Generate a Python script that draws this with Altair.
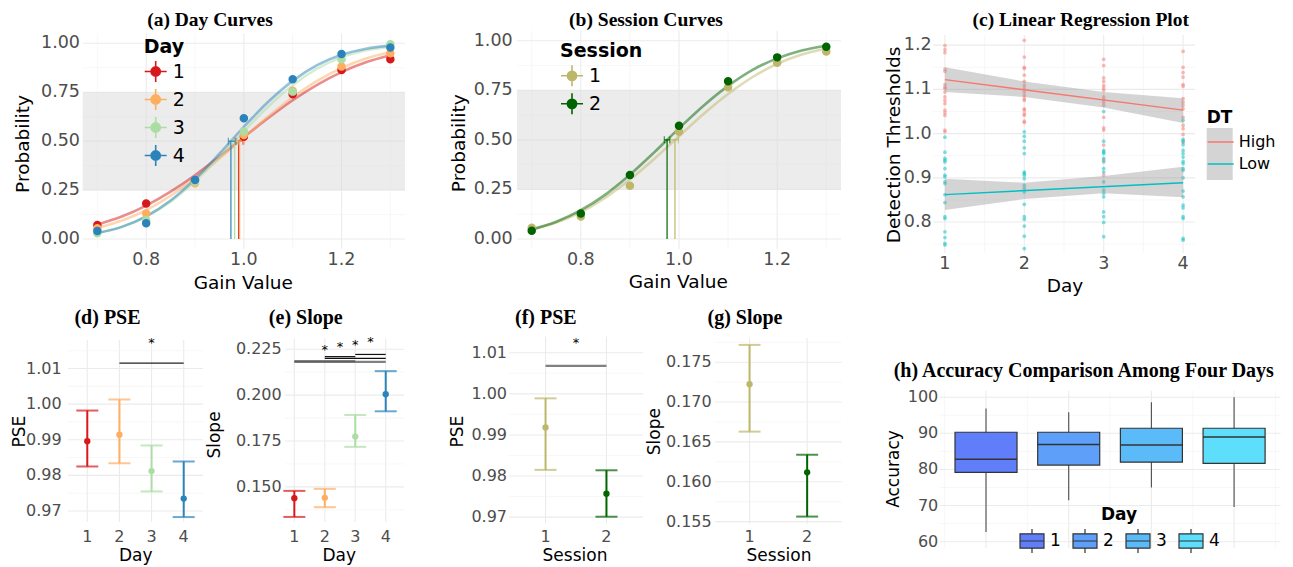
import altair as alt
import pandas as pd

FONT = "DejaVu Sans"
SERIF = "Liberation Serif"
GRID = "#EBEBEB"
MINOR = "#F3F3F3"
LABEL = "#4D4D4D"

# ---------------- data ----------------
gain_levels = [0.7, 0.8, 0.9, 1.0, 1.1, 1.2, 1.3]
curve_gain = [0.70, 0.75, 0.80, 0.85, 0.90, 0.95, 1.00, 1.05, 1.10, 1.15, 1.20, 1.25, 1.30]

days = ["1", "2", "3", "4"]
day_colors = ["#d7191c", "#fdae61", "#abdda4", "#2b83ba"]
day_prob = {
    "1": [0.072, 0.182, 0.300, 0.523, 0.739, 0.864, 0.918],
    "2": [0.055, 0.131, 0.285, 0.532, 0.758, 0.881, 0.949],
    "3": [0.029, 0.097, 0.293, 0.549, 0.753, 0.918, 0.995],
    "4": [0.041, 0.080, 0.302, 0.617, 0.816, 0.945, 0.978],
}
day_curve = {
    "1": [0.074, 0.115, 0.171, 0.242, 0.326, 0.421, 0.520, 0.618, 0.709, 0.788, 0.853, 0.903, 0.939],
    "2": [0.056, 0.094, 0.148, 0.221, 0.310, 0.411, 0.520, 0.626, 0.724, 0.808, 0.873, 0.922, 0.954],
    "3": [0.031, 0.062, 0.114, 0.191, 0.295, 0.418, 0.550, 0.677, 0.786, 0.870, 0.928, 0.964, 0.983],
    "4": [0.030, 0.062, 0.116, 0.197, 0.306, 0.436, 0.573, 0.701, 0.808, 0.888, 0.941, 0.972, 0.988],
}
day_pse = [0.9896, 0.9914, 0.9812, 0.9735]
day_pse_lo = [0.9825, 0.9834, 0.9755, 0.9683]
day_pse_hi = [0.9982, 1.0013, 0.9884, 0.9839]
day_slope = [0.1438, 0.1440, 0.1774, 0.2005]
day_slope_lo = [0.1336, 0.1389, 0.1718, 0.1912]
day_slope_hi = [0.1478, 0.1489, 0.1892, 0.2131]

sessions = ["1", "2"]
session_colors = ["#BDB76B", "#006400"]
session_prob = {
    "1": [0.057, 0.113, 0.269, 0.541, 0.765, 0.889, 0.945],
    "2": [0.042, 0.129, 0.323, 0.571, 0.795, 0.916, 0.970],
}
session_curve = {
    "1": [0.048, 0.083, 0.136, 0.209, 0.300, 0.405, 0.518, 0.630, 0.731, 0.817, 0.883, 0.930, 0.961],
    "2": [0.048, 0.087, 0.145, 0.224, 0.324, 0.438, 0.558, 0.672, 0.772, 0.853, 0.911, 0.951, 0.975],
}
session_pse = [0.9918, 0.9757]
session_pse_lo = [0.9815, 0.9701]
session_pse_hi = [0.9989, 0.9814]
session_slope = [0.17224, 0.16118]
session_slope_lo = [0.16629, 0.15563]
session_slope_hi = [0.17717, 0.16339]

# (c) detection thresholds per day
dt_high = {
    1: [1.199, 1.190, 1.183, 1.146, 1.141, 1.111, 1.105, 1.102, 1.094, 1.083, 1.075, 1.068, 1.053, 1.047, 1.041, 1.008, 1.004],
    2: [1.211, 1.173, 1.150, 1.147, 1.132, 1.118, 1.109, 1.102, 1.094, 1.086, 1.079, 1.075, 1.056, 1.053, 1.045, 1.041, 1.028, 1.025],
    3: [1.168, 1.154, 1.126, 1.118, 1.109, 1.103, 1.098, 1.083, 1.077, 1.071, 1.064, 1.037, 1.013, 1.008, 0.974, 0.940, 0.906],
    4: [1.186, 1.150, 1.138, 1.128, 1.111, 1.107, 1.079, 1.071, 1.064, 1.056, 1.037, 1.019, 1.011, 0.998, 0.981],
}
dt_low = {
    1: [0.992, 0.958, 0.944, 0.940, 0.936, 0.921, 0.906, 0.902, 0.891, 0.887, 0.862, 0.844, 0.812, 0.808, 0.778, 0.765, 0.752, 0.748],
    2: [1.004, 0.994, 0.983, 0.968, 0.955, 0.913, 0.910, 0.906, 0.898, 0.883, 0.876, 0.868, 0.840, 0.812, 0.806, 0.791, 0.768, 0.740],
    3: [1.050, 0.983, 0.962, 0.958, 0.955, 0.944, 0.936, 0.921, 0.913, 0.891, 0.872, 0.865, 0.857, 0.823, 0.812, 0.799, 0.767],
    4: [1.030, 0.987, 0.983, 0.975, 0.962, 0.955, 0.947, 0.937, 0.932, 0.921, 0.917, 0.900, 0.870, 0.857, 0.838, 0.832, 0.812, 0.808, 0.763, 0.759],
}
dt_groups = ["High", "Low"]
dt_colors = ["#F8766D", "#00BFC4"]
fit_days = [1, 4]
fit_high = [1.122, 1.053]
fit_low = [0.862, 0.889]
band_days = [1, 2, 3, 4]
band_high_lo = [1.094, 1.083, 1.059, 1.024]
band_high_hi = [1.150, 1.118, 1.094, 1.080]
band_low_lo = [0.827, 0.852, 0.865, 0.856]
band_low_hi = [0.898, 0.889, 0.904, 0.925]

# (h) accuracy box statistics
acc_min = [62.7, 71.5, 75.0, 69.6]
acc_q1 = [79.2, 81.2, 82.0, 81.7]
acc_med = [82.8, 86.9, 86.8, 89.0]
acc_q3 = [90.3, 90.3, 91.4, 91.4]
acc_max = [96.9, 95.8, 98.6, 100.0]
acc_colors = ["#607EFA", "#5E9FF9", "#5BBAF8", "#5DDFFB"]

# significance brackets
d_sig = {"x1": [2], "x2": [4], "y": [1.0115], "c": ["#222222"]}
d_star = {"x": [3], "y": [1.0171]}
e_sig = {"x1": [1, 1, 2, 2, 3], "x2": [4, 3, 4, 3, 4],
         "y": [0.2182, 0.2185, 0.2201, 0.2210, 0.2222],
         "c": ["#808080", "#606060", "#111111", "#111111", "#111111"]}
e_star = {"x": [2, 2.5, 3, 3.5], "y": [0.2247, 0.2262, 0.2276, 0.2288]}
f_sig = {"x1": [1], "x2": [2], "y": [1.0068], "c": ["#808080"]}
f_star = {"x": [1.5], "y": [1.0124]}

PR_PATH = "M-1,0H1M0,-0.95V0.95M0.42,0A0.42,0.42,0,1,1,-0.42,0A0.42,0.42,0,1,1,0.42,0Z"
BOX_PATH = "M-1,-0.6H1V0.6H-1Z M-1,0H1 M0,-0.6V-1 M0,0.6V1"

one = pd.DataFrame({"k": [0]})

# ---------------- panel frames (plot areas in view pixels) ----------------
PA = dict(l=74.7, t=25.5, r=397, b=240.8, xd=[0.67, 1.33], yd=[-0.05, 1.05])
PB = dict(l=509, t=22.8, r=833, b=240.9, xd=[0.67, 1.33], yd=[-0.05, 1.05])
PC = dict(l=925, t=27, r=1187, b=245, xd=[0.85, 4.15], yd=[0.73, 1.223])
PD = dict(l=60, t=332, r=195, b=513.7, xd=[0.4, 4.6], yd=[0.967, 1.018])
PE = dict(l=277.2, t=330.3, r=396, b=513.7, xd=[0.7, 4.6], yd=[0.131, 0.231])
PF = dict(l=501, t=328.7, r=635, b=515.3, xd=[0.4, 2.6], yd=[0.9685, 1.0139])
PG = dict(l=707, t=330.3, r=833.7, b=516, xd=[0.4, 2.6], yd=[0.1547, 0.178])
PH = dict(l=931.5, t=382.7, r=1272.6, b=540, xd=[0.4375, 4.5625], yd=[58.25, 101.8])


def SX(P):
    return alt.Scale(domain=P["xd"], range=[P["l"], P["r"]], nice=False, zero=False)


def SY(P):
    return alt.Scale(domain=P["yd"], range=[P["b"], P["t"]], nice=False, zero=False)


def X(P, f):
    return alt.X(f, scale=SX(P), axis=None)


def Y(P, f):
    return alt.Y(f, scale=SY(P), axis=None)


def grid(P, xmaj, xmin, ymaj, ymin):
    out = []
    for vals, col, w in [(xmin, MINOR, 0.7), (xmaj, GRID, 1.1)]:
        if vals:
            out.append(alt.Chart(pd.DataFrame({"v": vals})).mark_rule(color=col, strokeWidth=w).encode(
                x=X(P, "v:Q"), y=alt.value(P["t"]), y2=alt.value(P["b"])))
    for vals, col, w in [(ymin, MINOR, 0.7), (ymaj, GRID, 1.1)]:
        if vals:
            out.append(alt.Chart(pd.DataFrame({"v": vals})).mark_rule(color=col, strokeWidth=w).encode(
                y=Y(P, "v:Q"), x=alt.value(P["l"]), x2=alt.value(P["r"])))
    return out


def xlabels(P, vals, fmt, ypx, size):
    return alt.Chart(pd.DataFrame({"v": vals})).mark_text(
        font=FONT, fontSize=size, color=LABEL, align="center", baseline="middle").encode(
        x=X(P, "v:Q"), y=alt.value(ypx), text=alt.Text("v:Q", format=fmt))


def ylabels(P, vals, fmt, xpx, size):
    return alt.Chart(pd.DataFrame({"v": vals})).mark_text(
        font=FONT, fontSize=size, color=LABEL, align="right", baseline="middle").encode(
        y=Y(P, "v:Q"), x=alt.value(xpx), text=alt.Text("v:Q", format=fmt))


def label(text, x, y, size, angle=0, weight="normal", font=FONT):
    kw = dict(text=text, font=font, fontSize=size, fontWeight=weight, color="black",
              align="center", baseline="alphabetic")
    if angle:
        kw["angle"] = angle
    return alt.Chart(one).mark_text(**kw).encode(x=alt.value(x), y=alt.value(y))


def ptitle(text, x, y, size=20):
    return label(text, x, y, size, weight="bold", font=SERIF)


layers = []


# ---------------- (a), (b) psychometric curves ----------------
def curve_panel(P, cats, colors, prob, curve, pse, lo, hi, legend_title, legx, legy):
    cmap = dict(zip(cats, colors))
    pts = pd.DataFrame([{"g": g, "grp": c, "p": v} for c in cats for g, v in zip(gain_levels, prob[c])])
    crv = pd.DataFrame([{"g": g, "grp": c, "p": v, "col": cmap[c]}
                        for c in cats for g, v in zip(curve_gain, curve[c])])
    ps = pd.DataFrame({"grp": cats, "pse": pse, "lo": lo, "hi": hi, "col": colors,
                       "y0": [0.0] * len(cats), "y1": [0.5] * len(cats)})
    band = pd.DataFrame({"a": [0.25], "b": [0.75]})
    cs = alt.Scale(domain=cats, range=colors)
    leg = alt.Legend(title=legend_title, orient="none", legendX=legx, legendY=legy,
                     symbolType=PR_PATH, symbolSize=484, symbolStrokeWidth=1.6, symbolOpacity=1,
                     labelFont=FONT, labelFontSize=19, labelColor="black", labelOffset=5,
                     titleFont=FONT, titleFontSize=19, titleFontWeight="bold", titleColor="black",
                     titlePadding=3, rowPadding=0, padding=0)
    out = grid(P, [0.8, 1.0, 1.2], [0.7, 0.9, 1.1, 1.3], [0, 0.25, 0.5, 0.75, 1.0],
               [0.125, 0.375, 0.625, 0.875])
    out += [
        alt.Chart(band).mark_rect(color="#d9d9d9", opacity=0.5).encode(
            x=alt.value(P["l"]), x2=alt.value(P["r"]), y=Y(P, "a:Q"), y2="b:Q"),
        alt.Chart(crv).mark_line(strokeWidth=2.6, opacity=0.5, interpolate="monotone").encode(
            x=X(P, "g:Q"), y=Y(P, "p:Q"), color=alt.Color("col:N", scale=None),
            detail="grp:N"),
        alt.Chart(ps).mark_rule(strokeWidth=1.2).encode(
            x=X(P, "pse:Q"), y=Y(P, "y0:Q"), y2="y1:Q", color=alt.Color("col:N", scale=None)),
        alt.Chart(ps).mark_errorbar(ticks=True, size=7, thickness=1.2).encode(
            x=X(P, "lo:Q"), x2="hi:Q", y=Y(P, "y1:Q"), color=alt.Color("col:N", scale=None)),
        alt.Chart(pts).mark_circle(size=42, opacity=1).encode(
            x=X(P, "g:Q"), y=Y(P, "p:Q"),
            fill=alt.Fill("grp:N", scale=cs, legend=leg),
            stroke=alt.Stroke("grp:N", scale=cs, legend=leg)),
    ]
    return out


TOP_T = 17.5
layers += curve_panel(PA, days, day_colors, day_prob, day_curve, day_pse, day_pse_lo, day_pse_hi,
                      "Day", 135.7, 29.5)
layers += [
    ylabels(PA, [0, 0.25, 0.5, 0.75, 1.0], ".2f", 72, 17.5),
    xlabels(PA, [0.8, 1.0, 1.2], ".1f", 251.5, 17.5),
    label("Gain Value", 235.3, 280.5, 18.5),
    label("Probability", 21, 136, 18.5, angle=270),
    ptitle("(a) Day Curves", 202, TOP_T, 19.5),
]
layers += curve_panel(PB, sessions, session_colors, session_prob, session_curve, session_pse,
                      session_pse_lo, session_pse_hi, "Session", 552, 33.8)
layers += [
    ylabels(PB, [0, 0.25, 0.5, 0.75, 1.0], ".2f", 504.7, 17.5),
    xlabels(PB, [0.8, 1.0, 1.2], ".1f", 251.5, 17.5),
    label("Gain Value", 670.3, 280.3, 18.5),
    label("Probability", 457, 135.3, 18.5, angle=270),
    ptitle("(b) Session Curves", 638, TOP_T, 19.5),
]

# ---------------- (c) regression ----------------
dtc = alt.Scale(domain=dt_groups, range=dt_colors)
dcol = dict(zip(dt_groups, dt_colors))
c_pts = pd.DataFrame(
    [{"day": d, "v": v, "col": dcol["High"]} for d in dt_high for v in dt_high[d]] +
    [{"day": d, "v": v, "col": dcol["Low"]} for d in dt_low for v in dt_low[d]])
c_fit = pd.DataFrame(
    [{"day": d, "v": v, "dt": "High"} for d, v in zip(fit_days, fit_high)] +
    [{"day": d, "v": v, "dt": "Low"} for d, v in zip(fit_days, fit_low)])
c_band = pd.DataFrame(
    [{"day": d, "lo": a, "hi": b, "k": "High."} for d, a, b in zip(band_days, band_high_lo, band_high_hi)] +
    [{"day": d, "lo": a, "hi": b, "k": "Low."} for d, a, b in zip(band_days, band_low_lo, band_low_hi)])
legC_A = alt.Legend(title=" ", orient="none", legendX=1198.7, legendY=102, symbolType="square",
                    symbolSize=676, symbolStrokeWidth=0, symbolOpacity=0.42, rowPadding=0,
                    labelFont=FONT, labelFontSize=16, labelExpr="''", labelOffset=4,
                    titleFont=FONT, titleFontSize=17, titleFontWeight="bold",
                    titlePadding=1, padding=0)
legC_B = alt.Legend(title="DT", orient="none", legendX=1198.7, legendY=102, symbolType="stroke",
                    symbolSize=676, symbolStrokeWidth=1.5, symbolOpacity=1, rowPadding=0,
                    labelFont=FONT, labelFontSize=16, labelColor="black", labelOffset=4,
                    titleFont=FONT, titleFontSize=17, titleFontWeight="bold",
                    titleColor="black", titlePadding=1, padding=0)
layers += grid(PC, [1, 2, 3, 4], [1.5, 2.5, 3.5], [0.8, 0.9, 1.0, 1.1, 1.2],
               [0.75, 0.85, 0.95, 1.05, 1.15])
layers += [
    alt.Chart(c_pts).mark_circle(size=14, opacity=0.5).encode(
        x=X(PC, "day:Q"), y=Y(PC, "v:Q"), color=alt.Color("col:N", scale=None)),
    alt.Chart(c_band).mark_area(opacity=0.42).encode(
        x=X(PC, "day:Q"), y=Y(PC, "lo:Q"), y2="hi:Q",
        fill=alt.Fill("k:N", scale=alt.Scale(domain=["High.", "Low."], range=["#999999", "#999999"]),
                      legend=legC_A)),
    alt.Chart(c_fit).mark_line(strokeWidth=1.4).encode(
        x=X(PC, "day:Q"), y=Y(PC, "v:Q"), stroke=alt.Stroke("dt:N", scale=dtc, legend=legC_B)),
    ylabels(PC, [0.8, 0.9, 1.0, 1.1, 1.2], ".1f", 923.7, 17.5),
    xlabels(PC, [1, 2, 3, 4], "d", 255.8, 17.5),
    label("Day", 1057, 283.8, 18.5),
    label("Detection Thresholds", 892, 137, 18.5, angle=270),
    ptitle("(c) Linear Regression Plot", 1072.8, TOP_T, 19.5),
]


# ---------------- (d)-(g) estimates with error bars ----------------
def err_panel(P, cats, colors, mean, lo, hi, ymaj, ymin, sig=None, star=None):
    df = pd.DataFrame({"x": [int(c) for c in cats], "m": mean, "lo": lo, "hi": hi, "col": colors})
    out = grid(P, [int(c) for c in cats], [], ymaj, ymin)
    out += [
        alt.Chart(df).mark_errorbar(ticks=True, size=22, thickness=2).encode(
            x=X(P, "x:Q"), y=Y(P, "lo:Q"), y2="hi:Q", color=alt.Color("col:N", scale=None)),
        alt.Chart(df).mark_circle(size=40, opacity=1).encode(
            x=X(P, "x:Q"), y=Y(P, "m:Q"), color=alt.Color("col:N", scale=None)),
    ]
    if sig is not None:
        sdf = pd.DataFrame(sig)
        for col in sdf["c"].unique():
            sub = sdf[sdf["c"] == col]
            w = 2.2 if col in ("#808080", "#606060") else 1.2
            out.append(alt.Chart(sub).mark_rule(strokeWidth=w, color=col).encode(
                x=X(P, "x1:Q"), x2="x2:Q", y=Y(P, "y:Q")))
    if star is not None:
        out.append(alt.Chart(pd.DataFrame(star)).mark_text(
            text="*", fontSize=13, font=FONT, baseline="middle", color="black").encode(
            x=X(P, "x:Q"), y=Y(P, "y:Q")))
    return out


XL_Y = 528.5
XT_Y = 553
layers += err_panel(PD, days, day_colors, day_pse, day_pse_lo, day_pse_hi,
                    [0.97, 0.98, 0.99, 1.00, 1.01], [0.975, 0.985, 0.995, 1.005, 1.015],
                    sig=d_sig, star=d_star)
layers += [
    ylabels(PD, [0.97, 0.98, 0.99, 1.00, 1.01], ".2f", 53.7, 16),
    xlabels(PD, [1, 2, 3, 4], "d", XL_Y, 16),
    label("Day", 127.7, XT_Y, 17),
    label("PSE", 17, 423.7, 17, angle=270),
    ptitle("(d) PSE", 99.5, 316),
]
layers += err_panel(PE, days, day_colors, day_slope, day_slope_lo, day_slope_hi,
                    [0.150, 0.175, 0.200, 0.225], [0.1375, 0.1625, 0.1875, 0.2125],
                    sig=e_sig, star=e_star)
layers += [
    ylabels(PE, [0.150, 0.175, 0.200, 0.225], ".3f", 273.7, 16),
    xlabels(PE, [1, 2, 3, 4], "d", XL_Y, 16),
    label("Day", 331.3, XT_Y, 17),
    label("Slope", 211.5, 427, 17, angle=270),
    ptitle("(e) Slope", 297.8, 316),
]
layers += err_panel(PF, sessions, session_colors, session_pse, session_pse_lo, session_pse_hi,
                    [0.97, 0.98, 0.99, 1.00, 1.01], [0.975, 0.985, 0.995, 1.005],
                    sig=f_sig, star=f_star)
layers += [
    ylabels(PF, [0.97, 0.98, 0.99, 1.00, 1.01], ".2f", 499, 16),
    xlabels(PF, [1, 2], "d", XL_Y, 16),
    label("Session", 567, XT_Y, 17),
    label("PSE", 455, 423.7, 17, angle=270),
    ptitle("(f) PSE", 537.8, 316),
]
layers += err_panel(PG, sessions, session_colors, session_slope, session_slope_lo, session_slope_hi,
                    [0.155, 0.160, 0.165, 0.170, 0.175], [0.1575, 0.1625, 0.1675, 0.1725, 0.1775])
layers += [
    ylabels(PG, [0.155, 0.160, 0.165, 0.170, 0.175], ".3f", 703.7, 16),
    xlabels(PG, [1, 2], "d", XL_Y, 16),
    label("Session", 771, XT_Y, 17),
    label("Slope", 651.5, 423.7, 17, angle=270),
    ptitle("(g) Slope", 737, 316),
]

# ---------------- (h) accuracy boxplot ----------------
hcs = alt.Scale(domain=days, range=acc_colors)
hdf = pd.DataFrame({"day": days, "x": [1, 2, 3, 4], "mn": acc_min, "q1": acc_q1,
                    "med": acc_med, "q3": acc_q3, "mx": acc_max})
legH = alt.Legend(title="Day", orient="none", legendX=1011, legendY=498.7, direction="horizontal",
                  columns=4, titleAnchor="middle", symbolType=BOX_PATH, symbolSize=576,
                  symbolStrokeColor="#333333", symbolStrokeWidth=1.2, symbolOpacity=1,
                  labelFont=FONT, labelFontSize=17, labelColor="black", labelOffset=5,
                  titleFont=FONT, titleFontSize=17, titleFontWeight="bold", titleColor="black",
                  titlePadding=4, columnPadding=9, padding=0)
layers += grid(PH, [1, 2, 3, 4], [0.5, 1.5, 2.5, 3.5, 4.5], [60, 70, 80, 90, 100], [65, 75, 85, 95])
layers += [
    alt.Chart(hdf).mark_rule(color="#4D4D4D", strokeWidth=1.1).encode(
        x=X(PH, "x:Q"), y=Y(PH, "mn:Q"), y2="mx:Q"),
    alt.Chart(hdf).transform_calculate(xl="datum.x - 0.375", xr="datum.x + 0.375").mark_bar(
        stroke="#333333", strokeWidth=1.2, opacity=1).encode(
        x=X(PH, "xl:Q"), x2="xr:Q", y=Y(PH, "q1:Q"), y2="q3:Q",
        fill=alt.Fill("day:N", scale=hcs, legend=legH)),
    alt.Chart(hdf).transform_calculate(xl="datum.x - 0.375", xr="datum.x + 0.375").mark_rule(
        color="#333333", strokeWidth=1.5).encode(
        x=X(PH, "xl:Q"), x2="xr:Q", y=Y(PH, "med:Q")),
    ylabels(PH, [60, 70, 80, 90, 100], "d", 930.3, 16),
    label("Accuracy", 891, 461, 17, angle=270),
    ptitle("(h) Accuracy Comparison Among Four Days", 1075.8, 368.7),
]

RS = dict(x="independent", y="independent", color="independent", fill="independent",
          stroke="independent")
chart = (alt.layer(*layers)
         .resolve_scale(**RS)
         .resolve_legend(color="independent", fill="independent", stroke="independent")
         .properties(width=1277, height=560, padding=0,
                     autosize=alt.AutoSizeParams(type="none"))
         .configure_view(stroke=None))

chart.save("out.html", embed_options={"renderer": "svg", "actions": False})
